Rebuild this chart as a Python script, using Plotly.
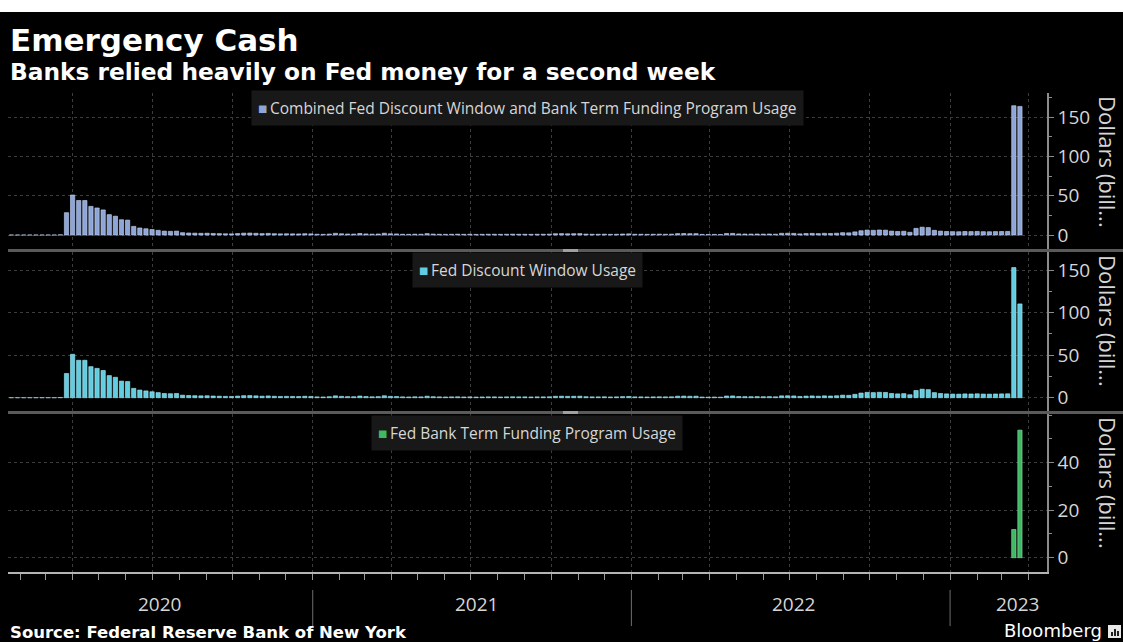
import pandas as pd
import plotly.graph_objects as go

# ---------------- data (billions of dollars, weekly Wednesday levels) ----------------
weeks = pd.date_range("2020-01-22", "2023-03-22", freq="7D")

discount_window = [
    # 2020
    0.05, 0.05, 0.05, 0.05, 0.05, 0.05, 0.05, 0.05, 0.3,
    28.5, 51.0, 44.0, 44.0, 36.5, 34.5, 32.0, 26.0, 24.0, 19.5,
    19.0, 11.0, 9.0, 8.0, 7.0, 6.0, 5.0, 4.7, 5.0, 3.0,
    2.6, 2.4, 2.2, 2.3, 2.0, 1.8, 1.6, 1.5, 1.9, 2.4, 2.5,
    2.2, 1.8, 2.1, 1.7, 1.5, 1.6, 1.5, 1.4, 1.7, 1.5,
    # 2021
    1.0, 0.9, 1.2, 2.2, 1.6, 1.3, 1.2, 2.0, 1.4, 1.1, 1.3, 2.3, 1.6,
    1.4, 1.0, 0.9, 1.1, 1.0, 1.8, 1.2, 1.0, 0.9, 1.0, 1.1, 0.9, 1.0,
    0.8, 0.9, 1.0, 1.0, 0.9, 1.0, 1.1, 1.0, 1.0, 0.9, 1.0, 1.0, 1.1,
    1.7, 1.8, 1.6, 1.7, 1.8, 1.2, 1.0, 1.0, 1.1, 0.9, 1.0, 1.3, 1.5,
    # 2022
    1.0, 1.0, 0.9, 1.0, 1.1, 1.0, 1.1, 1.8, 1.9, 1.7, 1.8, 0.8, 0.7,
    0.8, 0.7, 2.0, 2.1, 1.4, 1.3, 1.2, 1.3, 1.2, 1.3, 1.1, 2.2, 2.3,
    2.1, 1.5, 1.9, 2.1, 1.8, 2.2, 2.0, 2.3, 3.0, 2.8, 4.0, 5.5, 6.3,
    6.0, 6.4, 6.2, 5.0, 4.5, 4.8, 3.5, 8.5, 10.0, 9.5, 6.0, 5.0, 4.5,
    # 2023
    4.3, 4.2, 4.5, 4.4, 4.6, 4.3, 4.2, 4.4, 4.5, 4.6, 152.9, 110.2,
]

combined = [
    # 2020
    0.05, 0.05, 0.05, 0.05, 0.05, 0.05, 0.05, 0.05, 0.3,
    28.5, 51.0, 44.0, 44.0, 36.5, 34.5, 32.0, 26.0, 24.0, 19.5,
    19.0, 11.0, 9.0, 8.0, 7.0, 6.0, 5.0, 4.7, 5.0, 3.0,
    2.6, 2.4, 2.2, 2.3, 2.0, 1.8, 1.6, 1.5, 1.9, 2.4, 2.5,
    2.2, 1.8, 2.1, 1.7, 1.5, 1.6, 1.5, 1.4, 1.7, 1.5,
    # 2021
    1.0, 0.9, 1.2, 2.2, 1.6, 1.3, 1.2, 2.0, 1.4, 1.1, 1.3, 2.3, 1.6,
    1.4, 1.0, 0.9, 1.1, 1.0, 1.8, 1.2, 1.0, 0.9, 1.0, 1.1, 0.9, 1.0,
    0.8, 0.9, 1.0, 1.0, 0.9, 1.0, 1.1, 1.0, 1.0, 0.9, 1.0, 1.0, 1.1,
    1.7, 1.8, 1.6, 1.7, 1.8, 1.2, 1.0, 1.0, 1.1, 0.9, 1.0, 1.3, 1.5,
    # 2022
    1.0, 1.0, 0.9, 1.0, 1.1, 1.0, 1.1, 1.8, 1.9, 1.7, 1.8, 0.8, 0.7,
    0.8, 0.7, 2.0, 2.1, 1.4, 1.3, 1.2, 1.3, 1.2, 1.3, 1.1, 2.2, 2.3,
    2.1, 1.5, 1.9, 2.1, 1.8, 2.2, 2.0, 2.3, 3.0, 2.8, 4.0, 5.5, 6.3,
    6.0, 6.4, 6.2, 5.0, 4.5, 4.8, 3.5, 8.5, 10.0, 9.5, 6.0, 5.0, 4.5,
    # 2023
    4.3, 4.2, 4.5, 4.4, 4.6, 4.3, 4.2, 4.4, 4.5, 4.6, 164.8, 163.9,
]

btfp_weeks = ["2023-03-15", "2023-03-22"]
btfp = [11.9, 53.7]

assert len(discount_window) == len(weeks) == len(combined)

year_starts = ["2021-01-01", "2022-01-01", "2023-01-01"]
year_labels = ["2020", "2021", "2022", "2023"]
year_label_dates = ["2020-07-10", "2021-07-08", "2022-07-06", "2023-03-19"]
x_range = ["2020-01-18", "2023-04-22"]

panel_titles = [
    "Combined Fed Discount Window and Bank Term Funding Program Usage",
    "Fed Discount Window Usage",
    "Fed Bank Term Funding Program Usage",
]
colors = ["#8ea5d8", "#62cde0", "#3fb864"]
edge_colors = ["#c6d3f0", "#a9eaf4", "#8fe0a8"]
axis_title = "Dollars (bill..."

# ---------------- page geometry (pixels) ----------------
W, H = 1123, 642
L, R, T, B = 8, 1047, 93, 572


def px(x):
    return (x - L) / (R - L)


def py(y):
    return (B - y) / (B - T)


BG = "#000000"
GRID = "#3c3c3c"
AXIS = "#8c8c8c"
TXT = "#d6d6d6"
NUM_FONT = "Open Sans, Liberation Sans, Arial, sans-serif"
HEAD_FONT = "DejaVu Sans, Verdana, sans-serif"

fig = go.Figure()
fig.add_trace(go.Bar(x=weeks, y=combined, xaxis="x", yaxis="y",
                     marker=dict(color=colors[0], line=dict(color=edge_colors[0], width=0.6)),
                     showlegend=False))
fig.add_trace(go.Bar(x=weeks, y=discount_window, xaxis="x2", yaxis="y2",
                     marker=dict(color=colors[1], line=dict(color=edge_colors[1], width=0.6)),
                     showlegend=False))
fig.add_trace(go.Bar(x=pd.to_datetime(btfp_weeks), y=btfp, xaxis="x3", yaxis="y3",
                     marker=dict(color=colors[2], line=dict(color=edge_colors[2], width=0.6)),
                     width=7 * 24 * 3600 * 1000 * 0.7,
                     showlegend=False))

# panel extents (top, bottom) in px and key-box centre lines
panels = [(93, 249), (252, 411), (414, 572)]
key_y = [108, 270, 433]
y_ranges = [[-17.8, 181], [-15.6, 171.2], [-6.0, 60.5]]
y_ticks = [[0, 50, 100, 150], [0, 50, 100, 150], [0, 20, 40]]
y_minor = [25, 25, 10]

grid_x = dict(type="date", range=x_range, tick0="2020-01-01", dtick="M3",
              showgrid=True, gridcolor=GRID, griddash="dot", gridwidth=1,
              showticklabels=False, zeroline=False)

layout_axes = {}
for i, ((top, bot), yr, tv, mn) in enumerate(zip(panels, y_ranges, y_ticks, y_minor)):
    n = "" if i == 0 else str(i + 1)
    xa = dict(grid_x)
    xa["anchor"] = "y" + n
    xa["domain"] = [0, 1]
    if i < 2:
        xa.update(matches="x3", ticks="", showline=False)
    else:
        xa.update(ticks="outside", ticklen=6, tickcolor="#9a9a9a", tickwidth=1,
                  showline=True, linecolor="#b4b4b4", linewidth=1.5,
                  minor=dict(dtick="M1", tick0="2020-01-01", ticks="outside",
                             ticklen=6, tickcolor="#9a9a9a", showgrid=False))
    layout_axes["xaxis" + n] = xa
    layout_axes["yaxis" + n] = dict(
        domain=[py(bot), py(top)], anchor="x" + n, side="right", range=yr,
        tickmode="array", tickvals=tv, showgrid=True, gridcolor=GRID,
        griddash="dot", zeroline=False, showline=True, linecolor=AXIS,
        linewidth=1.5, ticks="outside", ticklen=5, tickcolor=AXIS,
        tickfont=dict(family=NUM_FONT, size=19, color=TXT),
        minor=dict(dtick=mn, ticks="outside", ticklen=3, tickcolor=AXIS, showgrid=False),
    )

fig.update_layout(
    width=W, height=H,
    margin=dict(l=L, r=W - R, t=T, b=H - B, pad=0),
    paper_bgcolor=BG, plot_bgcolor=BG,
    bargap=0.3,
    **layout_axes,
)

ann = []
# headline + subtitle
ann.append(dict(text="<b>Emergency Cash</b>", x=px(8), y=py(40), xref="paper", yref="paper",
                xanchor="left", yanchor="middle", showarrow=False,
                font=dict(family=HEAD_FONT, size=31, color="#ffffff")))
ann.append(dict(text="<b>Banks relied heavily on Fed money for a second week</b>", x=px(8), y=py(72),
                xref="paper", yref="paper", xanchor="left", yanchor="middle", showarrow=False,
                font=dict(family=HEAD_FONT, size=23.3, color="#ffffff")))
# per-panel key boxes and axis titles
for i, (top, bot) in enumerate(panels):
    ann.append(dict(
        text=f"<span style='color:{colors[i]}'>■</span>\u2009{panel_titles[i]}",
        x=px(527), y=py(key_y[i]), xref="paper", yref="paper",
        xanchor="center", yanchor="middle", showarrow=False,
        bgcolor="#181818", borderpad=6,
        font=dict(family=NUM_FONT, size=15.5, color=TXT)))
    ann.append(dict(text=axis_title, textangle=90, x=px(1108), y=py(top + 1),
                    xref="paper", yref="paper", xanchor="center", yanchor="top",
                    showarrow=False, font=dict(family=NUM_FONT, size=22, color=TXT)))

# year labels beneath the axis
for lab, d in zip(year_labels, year_label_dates):
    ann.append(dict(text=lab, x=d, y=py(604), xref="x3", yref="paper",
                    xanchor="center", yanchor="middle", showarrow=False,
                    font=dict(family=NUM_FONT, size=19, color=TXT)))

ann.append(dict(text="<b>Source: Federal Reserve Bank of New York</b>", x=px(8), y=py(632),
                xref="paper", yref="paper", xanchor="left", yanchor="middle", showarrow=False,
                font=dict(family=HEAD_FONT, size=16.5, color="#ffffff")))
ann.append(dict(text="Bloomberg", x=px(1104), y=py(630), xref="paper", yref="paper",
                xanchor="right", yanchor="middle", showarrow=False,
                font=dict(family="DejaVu Sans, sans-serif", size=18, color="#ffffff")))

shapes = []
# white strip along the top edge of the page
shapes.append(dict(type="rect", xref="paper", yref="paper", x0=px(0), x1=px(W), y0=py(12), y1=py(0),
                   fillcolor="#ffffff", line=dict(width=0), layer="above"))
# panel dividers with grab handles
for ytop in (249, 411):
    shapes.append(dict(type="rect", xref="paper", yref="paper", x0=px(8), x1=px(W), y0=py(ytop + 3),
                       y1=py(ytop), fillcolor="#5a5a5a", line=dict(width=0), layer="above"))
    shapes.append(dict(type="rect", xref="paper", yref="paper", x0=px(563), x1=px(578), y0=py(ytop + 3),
                       y1=py(ytop), fillcolor="#a0a0a0", line=dict(width=0), layer="above"))
# year separators below the axis
for d in year_starts:
    shapes.append(dict(type="line", xref="x3", yref="paper", x0=d, x1=d, y0=py(626), y1=py(590),
                       line=dict(color="#6e6e6e", width=1)))
# logo block next to the wordmark
shapes.append(dict(type="rect", xref="paper", yref="paper", x0=px(1108), x1=px(1121), y0=py(638),
                   y1=py(625), fillcolor="#e8e8e8", line=dict(width=0)))
for bx, bh in ((1111, 4), (1114, 7), (1117, 5)):
    shapes.append(dict(type="rect", xref="paper", yref="paper", x0=px(bx), x1=px(bx + 2),
                       y0=py(636), y1=py(636 - bh), fillcolor="#202020", line=dict(width=0)))

fig.update_layout(annotations=ann, shapes=shapes)
fig.write_html("out.html")
